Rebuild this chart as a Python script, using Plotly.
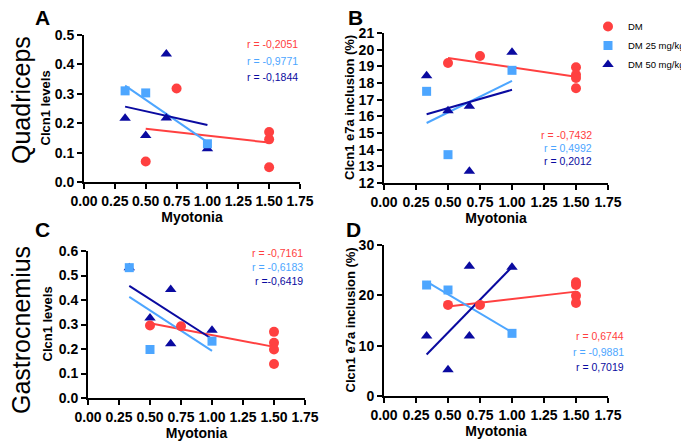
import numpy as np
import plotly.graph_objects as go

W, H = 689, 444
OFF = 8  # default page body margin
FW, FH = W - OFF, H - OFF


def fx(px):
    return (px - OFF) / FW


def fy(py):
    return 1 - (py - OFF) / FH


# ---------------- data ----------------
groups = ["DM", "DM 25 mg/kg", "DM 50 mg/kg"]
colors = ["#ff4040", "#4da6ff", "#0a0aa0"]
symbols = ["circle", "square", "triangle-up"]
sizes = [10, 9, 10]

# Panel A: Quadriceps, Clcn1 levels
A_dm_x = [0.5, 0.75, 1.5, 1.5, 1.5]
A_dm_y = [0.07, 0.318, 0.17, 0.145, 0.05]
A_25_x = [0.333, 0.5, 1.0]
A_25_y = [0.31, 0.303, 0.13]
A_50_x = [0.333, 0.5, 0.667, 0.667, 1.0]
A_50_y = [0.217, 0.158, 0.435, 0.218, 0.113]
A_r = ["r = -0,2051", "r = -0,9771", "r = -0,1844"]

# Panel B: Quadriceps, Clcn1 e7a inclusion (%)
B_dm_x = [0.5, 0.75, 1.5, 1.5, 1.5, 1.5]
B_dm_y = [19.2, 19.62, 18.94, 18.5, 18.3, 17.68]
B_25_x = [0.333, 0.5, 1.0]
B_25_y = [17.5, 13.7, 18.76]
B_50_x = [0.333, 0.5, 0.667, 0.667, 1.0]
B_50_y = [18.44, 16.34, 16.6, 12.7, 19.84]
B_r = ["r = -0,7432", "r = 0,4992", "r = 0,2012"]

# Panel C: Gastrocnemius, Clcn1 levels
C_dm_x = [0.5, 0.75, 1.5, 1.5, 1.5, 1.5]
C_dm_y = [0.296, 0.293, 0.27, 0.225, 0.198, 0.139]
C_25_x = [0.333, 0.5, 1.0]
C_25_y = [0.532, 0.198, 0.232]
C_50_x = [0.333, 0.5, 0.667, 0.667, 1.0]
C_50_y = [0.532, 0.327, 0.443, 0.221, 0.277]
C_r = ["r = -0,7161", "r = -0,6183", "r =-0,6419"]

# Panel D: Gastrocnemius, Clcn1 e7a inclusion (%)
D_dm_x = [0.5, 0.75, 1.5, 1.5, 1.5, 1.5]
D_dm_y = [18.1, 18.1, 22.6, 22.05, 19.9, 18.5]
D_25_x = [0.333, 0.5, 1.0]
D_25_y = [22.05, 21.06, 12.45]
D_50_x = [0.333, 0.5, 0.667, 0.667, 1.0]
D_50_y = [11.9, 5.2, 25.8, 11.9, 25.6]
D_r = ["r = 0,6744", "r = -0,9881", "r = 0,7019"]

x_ticks = [0, 0.25, 0.5, 0.75, 1.0, 1.25, 1.5, 1.75]

panels = [
    dict(name="A", data=[(A_dm_x, A_dm_y), (A_25_x, A_25_y), (A_50_x, A_50_y)], r=A_r,
         xpx=(84, 300), ypx=(182, 35), yr=(0, 0.5), dtick=0.1, fmt=".1f",
         rpos=(300, [44, 61, 77]), ytitle="Clcn1 levels", ytx=45),
    dict(name="B", data=[(B_dm_x, B_dm_y), (B_25_x, B_25_y), (B_50_x, B_50_y)], r=B_r,
         xpx=(384, 608), ypx=(183, 33), yr=(12, 21), dtick=1, fmt="d",
         rpos=(594, [135, 148, 161]), ytitle="Clcn1 e7a inclusion (%)", ytx=350),
    dict(name="C", data=[(C_dm_x, C_dm_y), (C_25_x, C_25_y), (C_50_x, C_50_y)], r=C_r,
         xpx=(88, 305), ypx=(398, 251), yr=(0, 0.6), dtick=0.1, fmt=".1f",
         rpos=(305, [253, 267, 281]), ytitle="Clcn1 levels", ytx=47),
    dict(name="D", data=[(D_dm_x, D_dm_y), (D_25_x, D_25_y), (D_50_x, D_50_y)], r=D_r,
         xpx=(384, 608), ypx=(396, 245), yr=(0, 30), dtick=10, fmt="d",
         rpos=(626, [336, 352, 367]), ytitle="Clcn1 e7a inclusion (%)", ytx=350),
]

FONT = "Liberation Sans, Arial, sans-serif"
fig = go.Figure()
annotations = []

for i, p in enumerate(panels):
    k = "" if i == 0 else str(i + 1)
    xa, ya = "x" + k, "y" + k
    # regression lines
    for g, (xs, ys) in enumerate(p["data"]):
        xs_a, ys_a = np.array(xs), np.array(ys)
        m, b = np.polyfit(xs_a, ys_a, 1)
        lx = np.array([xs_a.min(), xs_a.max()])
        fig.add_trace(go.Scatter(x=lx, y=m * lx + b, mode="lines", xaxis=xa, yaxis=ya,
                                 line=dict(color=colors[g], width=2), showlegend=False,
                                 hoverinfo="skip"))
    # markers (triangles, then squares, then circles on top)
    for g in [2, 1, 0]:
        xs, ys = p["data"][g]
        fig.add_trace(go.Scatter(x=xs, y=ys, mode="markers", xaxis=xa, yaxis=ya,
                                 marker=dict(color=colors[g], symbol=symbols[g], size=sizes[g],
                                             line=dict(width=0)),
                                 name=groups[g], legendrank=g + 1,
                                 showlegend=(i == 0), cliponaxis=False))
    x0, x1 = p["xpx"]
    yb, yt = p["ypx"]
    axis_common = dict(showline=True, linecolor="black", linewidth=2, ticks="outside",
                       ticklen=5, tickwidth=2, tickcolor="black", showgrid=False,
                       zeroline=False, fixedrange=True, automargin=False,
                       tickfont=dict(family=FONT, size=14, color="black", weight="bold"))
    fig.update_layout({
        "xaxis" + k: dict(domain=[fx(x0), fx(x1)], range=[0, 1.75], tickvals=x_ticks,
                          tickformat=".2f", anchor=ya,
                          title=dict(text="Myotonia", standoff=0,
                                     font=dict(family=FONT, size=14, color="black", weight="bold")),
                          **axis_common),
        "yaxis" + k: dict(domain=[fy(yb), fy(yt)], range=list(p["yr"]), dtick=p["dtick"],
                          tick0=p["yr"][0], tickformat=p["fmt"], anchor=xa, **axis_common),
    })
    # r annotations
    rx, rys = p["rpos"]
    for g in range(3):
        annotations.append(dict(x=fx(rx), y=fy(rys[g]), xref="paper", yref="paper",
                                text=p["r"][g], showarrow=False, xanchor="right", yanchor="middle",
                                font=dict(family=FONT, size=10.5, color=colors[g])))
    # y-axis title
    annotations.append(dict(x=fx(p["ytx"]), y=fy((yb + yt) / 2), xref="paper", yref="paper",
                            text=p["ytitle"], textangle=-90, showarrow=False,
                            xanchor="center", yanchor="middle",
                            font=dict(family=FONT, size=13, color="black", weight="bold")))

# panel letters
for txt, px, py in [("A", 42, 17), ("B", 355, 17), ("C", 42, 229), ("D", 354, 230)]:
    annotations.append(dict(x=fx(px), y=fy(py), xref="paper", yref="paper", text=txt,
                            showarrow=False, xanchor="center", yanchor="middle",
                            font=dict(family=FONT, size=21, color="black", weight="bold")))
# row labels
for txt, py in [("Quadriceps", 100), ("Gastrocnemius", 330)]:
    annotations.append(dict(x=fx(21), y=fy(py), xref="paper", yref="paper", text=txt,
                            textangle=-90, showarrow=False, xanchor="center", yanchor="middle",
                            font=dict(family=FONT, size=25, color="black")))

fig.update_layout(
    width=FW, height=FH, margin=dict(l=0, r=0, t=0, b=0, autoexpand=False),
    paper_bgcolor="white", plot_bgcolor="white",
    annotations=annotations,
    legend=dict(x=fx(588), y=fy(12), xanchor="left", yanchor="top",
                font=dict(family=FONT, size=9.5, color="black"),
                bgcolor="rgba(0,0,0,0)", itemwidth=30, tracegroupgap=0),
    font=dict(family=FONT),
)

fig.write_html("out.html")
